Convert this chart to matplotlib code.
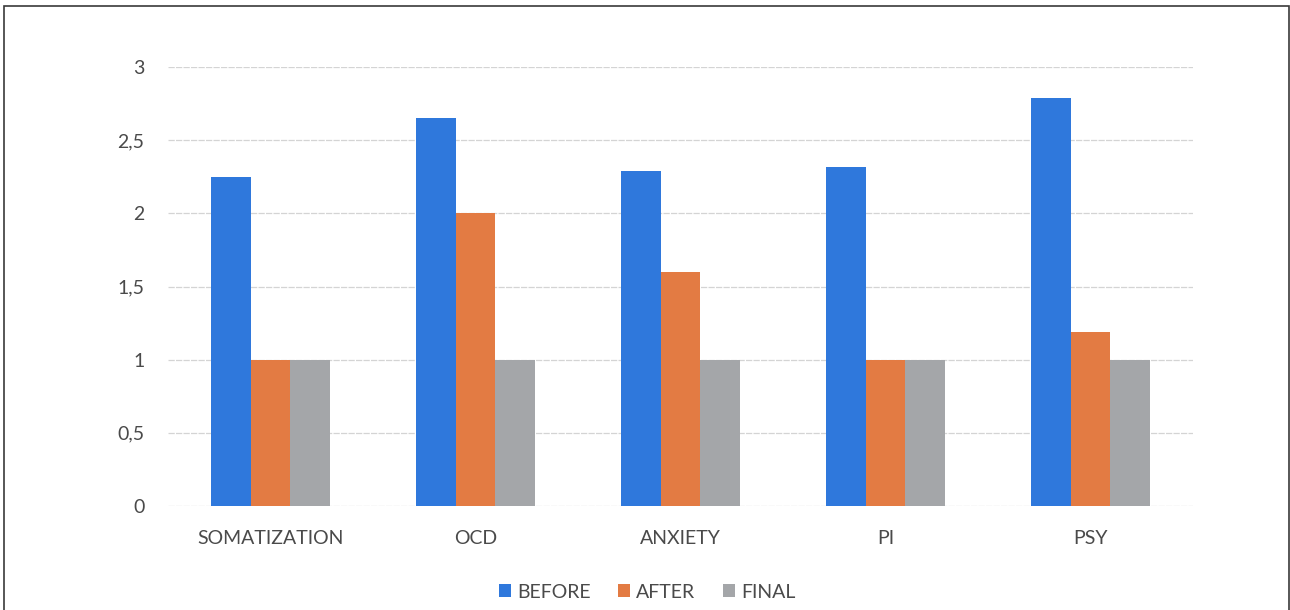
import matplotlib.pyplot as plt
import matplotlib.patches as patches
from matplotlib.ticker import FuncFormatter
import numpy as np

categories = ['SOMATIZATION', 'OCD', 'ANXIETY', 'PI', 'PSY']
before = [2.25, 2.65, 2.29, 2.32, 2.79]
after = [1.0, 2.0, 1.6, 1.0, 1.19]
final = [1.0, 1.0, 1.0, 1.0, 1.0]
series_names = ['BEFORE', 'AFTER', 'FINAL']
colors = ['#2f78dc', '#e37b43', '#a4a6a9']

plt.rcParams['font.family'] = ['Lato', 'DejaVu Sans']

fig = plt.figure(figsize=(12.9, 6.1), dpi=100)
ax = fig.add_axes([168/1290, 1 - 506/610, (1193-168)/1290, (506-67)/610])

x = np.arange(len(categories))
w = 0.193
for i, (vals, name, c) in enumerate(zip([before, after, final], series_names, colors)):
    ax.bar(x + (i - 1) * w, vals, w, color=c, label=name, zorder=3)

ax.set_xlim(-0.5, 4.5)
ax.set_ylim(0, 3)
ax.set_yticks(np.arange(0, 3.01, 0.5))
ax.yaxis.set_major_formatter(FuncFormatter(lambda v, p: ('%g' % v).replace('.', ',')))
ax.set_xticks(x)
ax.set_xticklabels(categories)
ax.tick_params(axis='both', length=0, labelsize=14, labelcolor='#4a4a4a')
ax.tick_params(axis='y', pad=17)
ax.tick_params(axis='x', pad=17)
ax.grid(axis='y', color='#d4d4d4', linewidth=0.9, linestyle=(0, (5, 1)))
for s in ax.spines.values():
    s.set_visible(False)

leg = fig.legend(loc='center', bbox_to_anchor=(647/1290, 1 - 592/610), ncol=3, frameon=False,
                 fontsize=14, handlelength=0.65, handleheight=0.65, handletextpad=0.3,
                 columnspacing=1.4, labelcolor='#4a4a4a')

# scanned page frame
fig.patches.append(patches.Rectangle((4/1290, -0.1), 1285/1290, 1.1 - 6/610, transform=fig.transFigure,
                                     fill=False, edgecolor='#3a3a3a', linewidth=1.2))

plt.savefig('out.png', dpi=100)
